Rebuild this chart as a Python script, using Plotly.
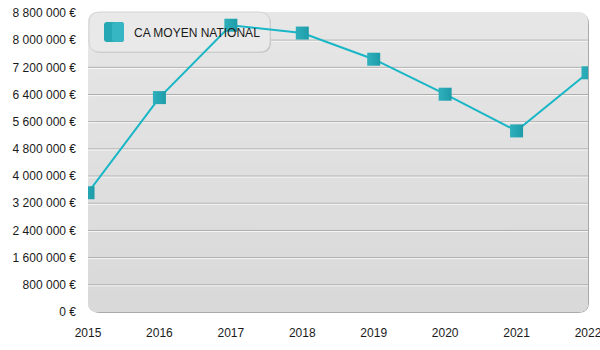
import plotly.graph_objects as go

years = [2015, 2016, 2017, 2018, 2019, 2020, 2021, 2022]
ca_moyen = [3510000, 6310000, 8440000, 8210000, 7440000, 6410000, 5330000, 7040000]
series_name = "CA MOYEN NATIONAL"
y_ticks = [0, 800000, 1600000, 2400000, 3200000, 4000000, 4800000, 5600000, 6400000, 7200000, 8000000, 8800000]
y_ticktext = [("{:,}".format(v).replace(",", " ") + " €") for v in y_ticks]

W, H = 600, 350
ML, MR, MT, MB = 88, 12, 13, 38
PW, PH = W - ML - MR, H - MT - MB


def px2paper(x, y):
    return (x - ML) / PW, (H - MB - y) / PH


def rounded_path(x0, y0, x1, y1, r):
    def P(x, y):
        a, b = px2paper(x, y)
        return f"{a:.5f},{b:.5f}"
    return (f"M {P(x0 + r, y0)} L {P(x1 - r, y0)} Q {P(x1, y0)} {P(x1, y0 + r)} "
            f"L {P(x1, y1 - r)} Q {P(x1, y1)} {P(x1 - r, y1)} "
            f"L {P(x0 + r, y1)} Q {P(x0, y1)} {P(x0, y1 - r)} "
            f"L {P(x0, y0 + r)} Q {P(x0, y0)} {P(x0 + r, y0)} Z")


def mix(c1, c2, t):
    a = [int(c1[i:i + 2], 16) for i in (1, 3, 5)]
    b = [int(c2[i:i + 2], 16) for i in (1, 3, 5)]
    return "#" + "".join(f"{round(a[k] + (b[k] - a[k]) * t):02x}" for k in range(3))


shapes = []
# shadow of plot background
shapes.append(dict(type="path", xref="paper", yref="paper", layer="below",
                   path=rounded_path(ML + 1, MT, ML + PW + 1, MT + PH + 1, 11),
                   fillcolor="#a9a9a9", line=dict(width=0)))
# plot background (vertical gradient approximation)
NB = 14
top_px, bot_px = MT - 1, MT + PH
for i in range(NB):
    y0 = top_px + (bot_px - top_px) * i / NB
    shapes.append(dict(type="path", xref="paper", yref="paper", layer="below",
                       path=rounded_path(ML, y0, ML + PW, bot_px, 10),
                       fillcolor=mix("#e6e6e6", "#d9d9d9", i / (NB - 1)),
                       line=dict(width=0)))
# gridlines with highlight
for v in y_ticks[1:-1]:
    shapes.append(dict(type="line", xref="paper", yref="y", layer="between",
                       x0=0, x1=1, y0=v, y1=v,
                       line=dict(color="#ababab", width=1)))
    shapes.append(dict(type="line", xref="paper", yref="y", layer="between",
                       ysizemode="pixel", yanchor=v, y0=-1, y1=-1, x0=0, x1=1,
                       line=dict(color="rgba(255,255,255,0.75)", width=1)))
# legend box
shapes.append(dict(type="path", xref="paper", yref="paper", layer="between",
                   path=rounded_path(90, 13, 271, 53, 11),
                   fillcolor="#c4c4c4", line=dict(width=0)))
shapes.append(dict(type="path", xref="paper", yref="paper", layer="between",
                   path=rounded_path(89, 12, 270, 52, 11),
                   fillcolor="#e9e9e9", line=dict(color="#d4d4d4", width=1)))
# legend symbol (large rounded square)
shapes.append(dict(type="path", xref="paper", yref="paper", layer="above",
                   path=rounded_path(104, 22, 124, 42, 3),
                   fillcolor="#25a8b4", line=dict(width=0)))
shapes.append(dict(type="path", xref="paper", yref="paper", layer="above",
                   path=rounded_path(112, 22, 124, 42, 3),
                   fillcolor="#35b6c2", line=dict(width=0)))

fig = go.Figure()
fig.add_trace(go.Scatter(x=years, y=ca_moyen, mode="lines", showlegend=False,
                         line=dict(color="#19b6c6", width=2), hoverinfo="skip"))
fig.add_trace(go.Scatter(x=years, y=ca_moyen, mode="markers", showlegend=False,
                         name=series_name,
                         marker=dict(symbol="square", size=13, color="#2eb0bc",
                                     gradient=dict(type="horizontal", color="#1d9ca8"),
                                     line=dict(width=0))))
# legend entry (symbol drawn as shape underneath)
fig.add_trace(go.Scatter(x=[None], y=[None], mode="markers", name=series_name,
                         marker=dict(symbol="square", size=13, color="rgba(0,0,0,0)")))

fig.update_layout(
    width=W, height=H,
    margin=dict(l=ML, r=MR, t=MT, b=MB, pad=0, autoexpand=False),
    paper_bgcolor="white", plot_bgcolor="rgba(0,0,0,0)",
    font=dict(family="Liberation Sans, Arial, sans-serif", size=12, color="#1a1a1a"),
    shapes=shapes,
    showlegend=True,
    legend=dict(x=(94 - ML) / PW, xanchor="left", y=px2paper(0, 18)[1], yanchor="top",
                bgcolor="rgba(0,0,0,0)", borderwidth=0, itemsizing="trace",
                font=dict(size=12, color="#1a1a1a")),
    xaxis=dict(range=[years[0], years[-1]], tickvals=years, ticktext=[str(y) for y in years],
               showgrid=False, zeroline=False, showline=False, ticks="",
               ticklabelstandoff=12, ticklabeloverflow="allow", automargin=False,
               fixedrange=True),
    yaxis=dict(range=[0, 8800000], tickvals=y_ticks, ticktext=y_ticktext,
               showgrid=False, zeroline=False, showline=False, ticks="",
               ticklabelstandoff=11, ticklabeloverflow="allow", automargin=False,
               fixedrange=True),
)

fig.write_html("out.html")
